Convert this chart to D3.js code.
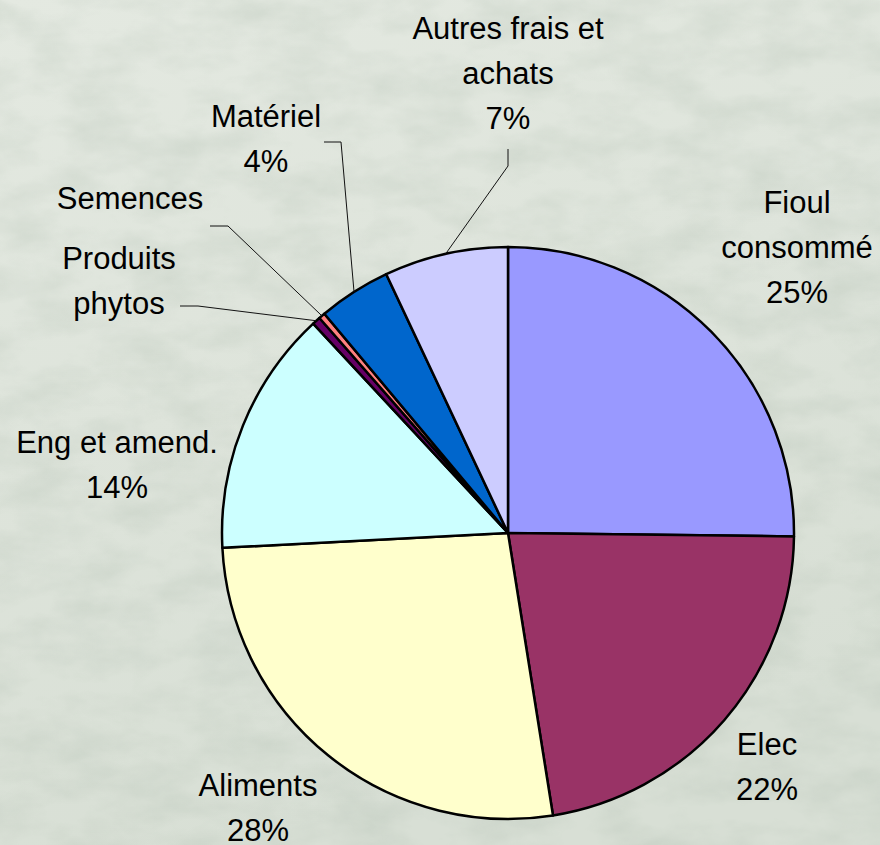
<!DOCTYPE html>
<html>
<head>
<meta charset="utf-8">
<script src="https://cdn.jsdelivr.net/npm/d3@7"></script>
<style>
	html, body { margin: 0; padding: 0; background: #dde3da; }
	svg { display: block; }
</style>
</head>
<body>
<svg id="chart"></svg>
<script>
// pie chart of costs, drawn with d3.pie / d3.arc

// data (slice order is clockwise from 12 o'clock)
const categories = [
	"Fioul\nconsommé",
	"Elec",
	"Aliments",
	"Eng et amend.",
	"Produits\nphytos",
	"Semences",
	"Matériel",
	"Autres frais et\nachats",
];
const values = [25.2, 22.3, 26.7, 13.9, 0.47, 0.36, 4.1, 7.0];
// percentages as printed on the chart (none shown for the two tiny slices)
const pctLabels = ["25%", "22%", "28%", "14%", "", "", "4%", "7%"];
const colors = ["#9999ff", "#993366", "#ffffcc", "#ccffff", "#660066", "#ff8080", "#0066cc", "#ccccff"];

// layout
const WIDTH = 880;
const HEIGHT = 845;
const cx = 508;
const cy = 533;
const radius = 286;
const lineHeight = 45;

// label block placement, offset from pie centre (x = centre of text, y = first baseline)
// leader: [elbow, end] offsets for the labels that have a leader line
const labelLayout = {
	"Fioul\nconsommé": { x: 289, y: -320 },
	"Elec": { x: 259, y: 222 },
	"Aliments": { x: -250, y: 263 },
	"Eng et amend.": { x: -391, y: -80 },
	"Produits\nphytos": { x: -389, y: -264, leader: [[-310, -227], [-328, -227]] },
	"Semences": { x: -378, y: -324, leader: [[-280, -307], [-298, -307]] },
	"Matériel": { x: -242, y: -406, leader: [[-167, -391], [-184, -391]] },
	"Autres frais et\nachats": { x: 0, y: -494, leader: [[0, -367], [0, -384]] },
};

const data = categories.map((name, i) => ({
	name,
	value: values[i],
	pct: pctLabels[i],
	color: colors[i],
}));

const svg = d3.select("#chart")
	.attr("width", WIDTH)
	.attr("height", HEIGHT)
	.attr("viewBox", `0 0 ${WIDTH} ${HEIGHT}`)
	.style("font-family", "'Liberation Sans', Arial, sans-serif");

// background: flat grey-green with a soft texture standing in for the photo
const defs = svg.append("defs");
const filter = defs.append("filter")
	.attr("id", "grain")
	.attr("x", 0).attr("y", 0)
	.attr("width", "100%").attr("height", "100%");
filter.append("feTurbulence")
	.attr("type", "fractalNoise")
	.attr("baseFrequency", "0.015 0.03")
	.attr("numOctaves", 4)
	.attr("seed", 7);
filter.append("feColorMatrix")
	.attr("type", "matrix")
	.attr("values", "0 0 0 0 0.42  0 0 0 0 0.50  0 0 0 0 0.42  0 0 0 -1.3 0.85");

const grad = defs.append("linearGradient")
	.attr("id", "bgGrad")
	.attr("x1", 0).attr("y1", 0)
	.attr("x2", 0.3).attr("y2", 1);
grad.append("stop").attr("offset", 0).attr("stop-color", "#e4e9e1");
grad.append("stop").attr("offset", 1).attr("stop-color", "#d8dfd5");

svg.append("rect")
	.attr("width", WIDTH)
	.attr("height", HEIGHT)
	.attr("fill", "url(#bgGrad)");
svg.append("rect")
	.attr("width", WIDTH)
	.attr("height", HEIGHT)
	.attr("filter", "url(#grain)")
	.attr("opacity", 0.4);

// pie
const pie = d3.pie()
	.sort(null)
	.value(d => d.value);

const arc = d3.arc()
	.innerRadius(0)
	.outerRadius(radius);

const arcs = pie(data);

const g = svg.append("g")
	.attr("transform", `translate(${cx},${cy})`);

g.selectAll("path.slice")
	.data(arcs)
	.join("path")
		.attr("class", "slice")
		.attr("d", arc)
		.attr("fill", d => d.data.color)
		.attr("stroke", "#000")
		.attr("stroke-width", 2.5)
		.attr("stroke-linejoin", "round");

// leader lines, from the middle of the slice's rim to the label
const withLeader = arcs.filter(d => labelLayout[d.data.name].leader);
g.selectAll("path.leader")
	.data(withLeader)
	.join("path")
		.attr("class", "leader")
		.attr("fill", "none")
		.attr("stroke", "#111")
		.attr("stroke-width", 1)
		.attr("d", d => {
			const mid = (d.startAngle + d.endAngle) / 2;
			const p0 = d3.pointRadial(mid, radius);
			const [elbow, end] = labelLayout[d.data.name].leader;
			return d3.line()([p0, elbow, end]);
		});

// labels: name lines, then percentage
const labels = g.selectAll("text.label")
	.data(arcs)
	.join("text")
		.attr("class", "label")
		.attr("text-anchor", "middle")
		.attr("font-size", 31)
		.attr("fill", "#000")
		.attr("x", d => labelLayout[d.data.name].x)
		.attr("y", d => labelLayout[d.data.name].y);

labels.selectAll("tspan")
	.data(d => {
		const lines = d.data.name.split("\n");
		if (d.data.pct) lines.push(d.data.pct);
		return lines.map((t, i) => ({ t, i, x: labelLayout[d.data.name].x }));
	})
	.join("tspan")
		.attr("x", d => d.x)
		.attr("dy", d => d.i === 0 ? 0 : lineHeight)
		.text(d => d.t);
</script>
</body>
</html>
